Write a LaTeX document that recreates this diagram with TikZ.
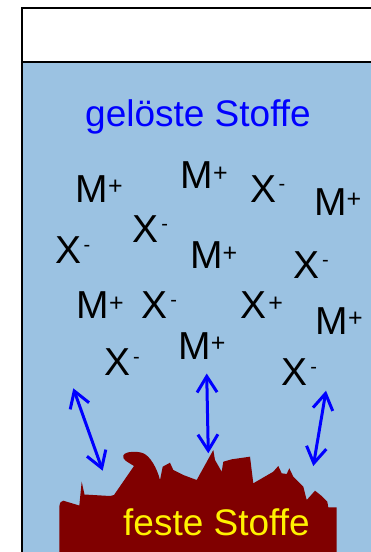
\documentclass[tikz,border=0pt]{standalone}
\usepackage{fontspec}
\setmainfont{Liberation Sans}
\usetikzlibrary{arrows.meta}

\definecolor{solution}{RGB}{155,194,226}
\definecolor{soliddark}{RGB}{128,0,0}

% ion labels with raised charges
\newcommand{\cation}{M\raisebox{7.5pt}{\fontsize{25}{25}\selectfont+}}
\newcommand{\anion}{X\kern2.5pt\raisebox{12pt}{\fontsize{20}{20}\selectfont-}}
\newcommand{\xcation}{X\kern1.5pt\raisebox{7.5pt}{\fontsize{25}{25}\selectfont+}}

\tikzset{
  ion/.style={anchor=base west, inner sep=0pt, text=black,
              font=\fontsize{39}{39}\selectfont},
  caption/.style={anchor=base west, inner sep=0pt,
              font=\fontsize{37}{37}\selectfont},
  exchange/.style={draw=blue, line width=3pt,
              {Straight Barb[length=16pt,width=20pt]}-{Straight Barb[length=16pt,width=20pt]}},
  wall/.style={line width=2pt, draw=black}
}

\begin{document}
\begin{tikzpicture}[x=1pt,y=-1pt]
\useasboundingbox (0,0) rectangle (371,552);
\clip (0,0) rectangle (371,552);

% vessel with solution
\fill[solution] (21.5,61.5) rectangle (380,560);
\draw[wall] (380,8) -- (21.5,8) -- (21.5,560);
\draw[wall] (21.5,61.5) -- (380,61.5);

% solid deposit with rough surface
\fill[soliddark]
  (59.3,560) -- (59.3,506.7)
  .. controls (60,502) and (61,501) .. (63.3,500.7)
  -- (79.3,505.5) -- (81.7,481.7) -- (84.5,494.5)
  -- (110,496) -- (114,495) -- (134,466)
  .. controls (128,462) and (122,460) .. (123.3,455.5)
  .. controls (125,451) and (138,451) .. (143.3,453.3)
  .. controls (150,456) and (157,468) .. (160,480)
  -- (162.7,466.7) -- (170,462.7) -- (173.3,470)
  -- (183.3,475) -- (196.7,480) -- (213.3,450) -- (215,460)
  -- (221.7,471.7) -- (223.3,461.7) -- (231.7,459.3) -- (250,456.7)
  -- (253.3,483.3) -- (273.3,471.7) -- (278.3,466) -- (281.7,473.3)
  -- (286.7,474) -- (289.3,468.3) -- (293.3,476.7) -- (303.3,486.7)
  -- (306.7,500) -- (315,490.7) -- (321.7,496) -- (327.3,501.7)
  -- (328.3,507.3) -- (336.7,507.3) -- (336.7,560) -- cycle;

% labels
\node[caption, text=blue] (dissolved) at (85,126) {gelöste Stoffe};
\node[caption, text=yellow] (solids) at (123,535) {feste Stoffe};

% ions in solution
\node[ion] (i1)  at (75.5,202)  {\cation};
\node[ion] (i2)  at (180.5,188.5) {\cation};
\node[ion] (i3)  at (250,202)   {\anion};
\node[ion] (i4)  at (313.9,215) {\cation};
\node[ion] (i5)  at (132.7,242) {\anion};
\node[ion] (i6)  at (55,263.4)  {\anion};
\node[ion] (i7)  at (189.9,268.5) {\cation};
\node[ion] (i8)  at (293.3,278.5) {\anion};
\node[ion] (i9)  at (76.5,318.5) {\cation};
\node[ion] (i10) at (141.7,318.5) {\anion};
\node[ion] (i11) at (240.7,318.5) {\xcation};
\node[ion] (i12) at (315.5,334) {\cation};
\node[ion] (i13) at (104.5,375) {\anion};
\node[ion] (i14) at (178.2,359.3) {\cation};
\node[ion] (i15) at (281.7,385.7) {\anion};

% exchange between solution and solid
\coordinate (e1top) at (73.3,388.3);
\coordinate (e1bot) at (102.7,470.7);
\coordinate (e2top) at (206.7,373.5);
\coordinate (e2bot) at (208.3,453.3);
\coordinate (e3top) at (326,390.7);
\coordinate (e3bot) at (313.3,466);
\draw[exchange] (e1top) -- (e1bot);
\draw[exchange] (e2top) -- (e2bot);
\draw[exchange] (e3top) -- (e3bot);
\end{tikzpicture}
\end{document}
